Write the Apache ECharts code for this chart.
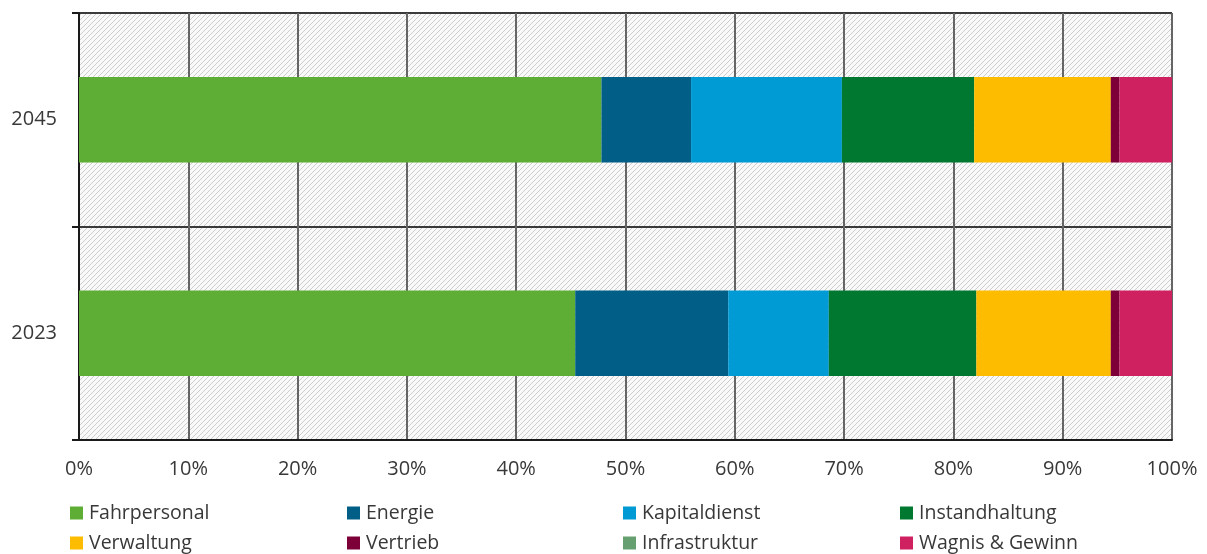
<!DOCTYPE html>
<html>
<head>
<meta charset="utf-8">
<script src="https://cdn.jsdelivr.net/npm/echarts@6/dist/echarts.min.js"></script>
<style>
  html, body { margin: 0; padding: 0; background: #fff; }
  #chart { width: 1207px; height: 554px; }
</style>
</head>
<body>
<div id="chart"></div>
<script>
// Cost shares per year (percent of total)
const years = ['2023', '2045'];
const xTicks = [0, 10, 20, 30, 40, 50, 60, 70, 80, 90, 100];

const fahrpersonal   = [45.4, 47.8];
const energie        = [14.0, 8.2];
const kapitaldienst  = [9.2, 13.8];
const instandhaltung = [13.5, 12.1];
const verwaltung     = [12.3, 12.5];
const vertrieb       = [0.8, 0.8];
const infrastruktur  = [0, 0];
const wagnisGewinn   = [4.8, 4.8];

const seriesDefs = [
  { name: 'Fahrpersonal',    data: fahrpersonal,   color: '#5EAD35' },
  { name: 'Energie',         data: energie,        color: '#005E87' },
  { name: 'Kapitaldienst',   data: kapitaldienst,  color: '#009BD5' },
  { name: 'Instandhaltung',  data: instandhaltung, color: '#00782F' },
  { name: 'Verwaltung',      data: verwaltung,     color: '#FDBC00' },
  { name: 'Vertrieb',        data: vertrieb,       color: '#7E0039' },
  { name: 'Infrastruktur',   data: infrastruktur,  color: '#66A070' },
  { name: 'Wagnis & Gewinn', data: wagnisGewinn,   color: '#CF205F' }
];

// Legend grid: 4 columns x 2 rows
const legendCols = [70, 347, 623, 900];
const legendRows = [503, 533];

// Diagonal hatch tile for the plot background
function hatchTile() {
  const s = 5;
  const c = document.createElement('canvas');
  c.width = s; c.height = s;
  const g = c.getContext('2d');
  g.fillStyle = '#f9f9f9';
  g.fillRect(0, 0, s, s);
  g.strokeStyle = '#cdcdcd';
  g.lineWidth = 1;
  g.beginPath();
  g.moveTo(0, s); g.lineTo(s, 0);
  g.moveTo(-1, 1); g.lineTo(1, -1);
  g.moveTo(s - 1, s + 1); g.lineTo(s + 1, s - 1);
  g.stroke();
  return c;
}

const FONT = 'Open Sans';
const TEXT = '#383838';

const chart = echarts.init(document.getElementById('chart'), null, { renderer: 'canvas' });

chart.setOption({
  animation: false,
  textStyle: { fontFamily: FONT },
  grid: {
    left: 79, right: 35, top: 13, bottom: 114,
    show: true,
    borderWidth: 0,
    backgroundColor: { image: hatchTile(), repeat: 'repeat' }
  },
  legend: seriesDefs.map((s, i) => ({
    data: [s.name],
    left: legendCols[i % 4],
    top: legendRows[Math.floor(i / 4)],
    padding: 0,
    icon: 'rect',
    itemWidth: 13,
    itemHeight: 13,
    itemGap: 0,
    selectedMode: false,
    textStyle: { fontFamily: FONT, fontSize: 19.5, color: TEXT, padding: [0, 0, 0, 1] }
  })),
  xAxis: {
    type: 'value',
    min: xTicks[0],
    max: xTicks[xTicks.length - 1],
    interval: xTicks[1] - xTicks[0],
    axisLine: { show: true, lineStyle: { color: '#1a1a1a', width: 2 } },
    axisTick: { show: false },
    axisLabel: { formatter: '{value}%', fontSize: 20, color: TEXT, margin: 19, fontFamily: FONT },
    splitLine: { show: true, lineStyle: { color: '#656565', width: 2 } }
  },
  yAxis: {
    type: 'category',
    data: years,
    axisLine: { show: true, lineStyle: { color: '#1a1a1a', width: 2 } },
    axisTick: { show: true, length: 7, lineStyle: { color: '#1a1a1a', width: 2 } },
    axisLabel: { fontSize: 20, color: TEXT, margin: 22, fontFamily: FONT },
    splitLine: { show: true, lineStyle: { color: '#3a3a3a', width: 2 } }
  },
  series: seriesDefs.map(s => ({
    name: s.name,
    type: 'bar',
    stack: 'total',
    barCategoryGap: '60%',
    data: s.data,
    itemStyle: { color: s.color },
    emphasis: { disabled: true }
  }))
});
</script>
</body>
</html>
